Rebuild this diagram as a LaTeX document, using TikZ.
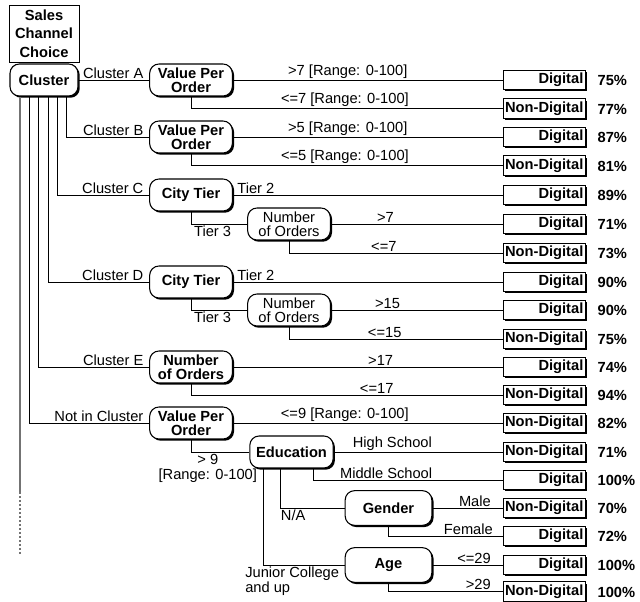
\documentclass[tikz,border=0pt]{standalone}
\usepackage{fontspec}
\setmainfont{Liberation Sans}
\usetikzlibrary{positioning,shadows}

\begin{document}
\begin{tikzpicture}[
  x=0.75pt,y=-0.75pt,
  font=\fontsize{11}{10.5}\selectfont,
  conn/.style={draw,line width=0.7pt},
  attr/.style={draw,fill=white,line width=0.8pt,rounded corners=7pt,align=center,
               font=\fontsize{11}{10.5}\selectfont\bfseries,inner sep=1.5pt,
               minimum width=62pt,minimum height=24pt,
               drop shadow={shadow xshift=1.3pt,shadow yshift=-1.3pt,opacity=1,fill=black}},
  attrplain/.style={attr,font=\fontsize{11}{10.5}\selectfont},
  leaf/.style={draw,fill=white,line width=0.6pt,text width=59pt,align=right,
               inner xsep=1.25pt,inner ysep=0pt,minimum height=14.5pt,
               font=\fontsize{11}{10.5}\selectfont\bfseries,
               drop shadow={shadow xshift=1.3pt,shadow yshift=-1.3pt,opacity=1,fill=black}},
  pct/.style={inner sep=0pt,yshift=-0.5pt,font=\fontsize{11}{10.5}\selectfont\bfseries},
  lbl/.style={inner sep=1pt},
  more/.style={line width=1pt,black!55}
]
  \useasboundingbox (0,0) rectangle (640,602);

  % root of the tree
  \node[draw,line width=0.7pt,align=center,inner sep=1pt,
        font=\fontsize{11}{13.8}\selectfont\bfseries,
        minimum width=52.5pt,minimum height=42.75pt] (choice) at (44,33.5) {Sales\\Channel\\Choice};
  \node[attr,minimum width=51pt] (cluster) at (44,80) {Cluster};
  \draw[conn] (choice) -- (cluster);

  % splits
  \node[attr] (vpoA) at (191,80) {Value Per\\Order};
  \node[attr] (vpoB) at (191,137) {Value Per\\Order};
  \node[attr] (ctC) at (191,195) {City Tier};
  \node[attrplain] (nooC) at (289,224) {Number\\of Orders};
  \node[attr] (ctD) at (191,282) {City Tier};
  \node[attrplain] (nooD) at (289,310) {Number\\of Orders};
  \node[attr] (nooE) at (191,367) {Number\\of Orders};
  \node[attr] (vpoN) at (191,423) {Value Per\\Order};
  \node[attr,minimum width=62.5pt] (edu) at (291.5,452) {Education};
  \node[attr,minimum width=65pt,minimum height=26pt] (gender) at (388.5,508) {Gender};
  \node[attr,minimum width=65pt,minimum height=26pt] (age) at (388.5,565) {Age};

  % leaves and shares
  \node[leaf] (lf1) at (544,80) {Digital};
  \node[pct,right=9pt of lf1] (pc1) {75\%};
  \node[leaf] (lf2) at (544,108.5) {Non-Digital};
  \node[pct,right=9pt of lf2] (pc2) {77\%};
  \node[leaf] (lf3) at (544,137) {Digital};
  \node[pct,right=9pt of lf3] (pc3) {87\%};
  \node[leaf] (lf4) at (544,165.5) {Non-Digital};
  \node[pct,right=9pt of lf4] (pc4) {81\%};
  \node[leaf] (lf5) at (544,195) {Digital};
  \node[pct,right=9pt of lf5] (pc5) {89\%};
  \node[leaf] (lf6) at (544,224) {Digital};
  \node[pct,right=9pt of lf6] (pc6) {71\%};
  \node[leaf] (lf7) at (544,253) {Non-Digital};
  \node[pct,right=9pt of lf7] (pc7) {73\%};
  \node[leaf] (lf8) at (544,282) {Digital};
  \node[pct,right=9pt of lf8] (pc8) {90\%};
  \node[leaf] (lf9) at (544,310) {Digital};
  \node[pct,right=9pt of lf9] (pc9) {90\%};
  \node[leaf] (lf10) at (544,339) {Non-Digital};
  \node[pct,right=9pt of lf10] (pc10) {75\%};
  \node[leaf] (lf11) at (544,367) {Digital};
  \node[pct,right=9pt of lf11] (pc11) {74\%};
  \node[leaf] (lf12) at (544,395) {Non-Digital};
  \node[pct,right=9pt of lf12] (pc12) {94\%};
  \node[leaf] (lf13) at (544,423) {Non-Digital};
  \node[pct,right=9pt of lf13] (pc13) {82\%};
  \node[leaf] (lf14) at (544,452) {Non-Digital};
  \node[pct,right=9pt of lf14] (pc14) {71\%};
  \node[leaf] (lf15) at (544,480) {Digital};
  \node[pct,right=9pt of lf15] (pc15) {100\%};
  \node[leaf] (lf16) at (544,508) {Non-Digital};
  \node[pct,right=9pt of lf16] (pc16) {70\%};
  \node[leaf] (lf17) at (544,536) {Digital};
  \node[pct,right=9pt of lf17] (pc17) {72\%};
  \node[leaf] (lf18) at (544,565) {Digital};
  \node[pct,right=9pt of lf18] (pc18) {100\%};
  \node[leaf] (lf19) at (544,591.5) {Non-Digital};
  \node[pct,right=9pt of lf19] (pc19) {100\%};

  % cluster branches
  \draw[conn] (cluster) -- node[lbl,pos=1,anchor=south east,xshift=-3pt] {Cluster A} (vpoA);
  \draw[conn] ([xshift=16.5pt]cluster.south) |- node[lbl,pos=1,anchor=south east,xshift=-3pt] {Cluster B} (vpoB);
  \draw[conn] ([xshift=9.75pt]cluster.south) |- node[lbl,pos=1,anchor=south east,xshift=-3pt] {Cluster C} (ctC);
  \draw[conn] ([xshift=3pt]cluster.south) |- node[lbl,pos=1,anchor=south east,xshift=-3pt] {Cluster D} (ctD);
  \draw[conn] ([xshift=-4.5pt]cluster.south) |- node[lbl,pos=1,anchor=south east,xshift=-3pt] {Cluster E} (nooE);
  \draw[conn] ([xshift=-11.25pt]cluster.south) |- node[lbl,pos=1,anchor=south east,xshift=-3pt] {Not in Cluster} (vpoN);
  \coordinate (cut) at (20,492);
  \coordinate (cutend) at (20,555);
  \draw[more] ([xshift=-18pt]cluster.south) -- (cut);
  \draw[more,dash pattern=on 1.5pt off 1.5pt] (cut) -- (cutend);

  % cluster A and B
  \draw[conn] (vpoA) -- node[lbl,pos=0.426,above] {>7 [Range: 0-100]} (lf1);
  \draw[conn] (vpoA) |- node[lbl,pos=0.747,above] {<=7 [Range: 0-100]} (lf2);
  \draw[conn] (vpoB) -- node[lbl,pos=0.426,above] {>5 [Range: 0-100]} (lf3);
  \draw[conn] (vpoB) |- node[lbl,pos=0.747,above] {<=5 [Range: 0-100]} (lf4);

  % cluster C and D
  \draw[conn] (ctC) -- node[lbl,pos=0,anchor=south west,xshift=2pt] {Tier 2} (lf5);
  \draw[conn] (ctC) |- node[lbl,pos=0.5,anchor=north west,xshift=1pt] {Tier 3} (nooC);
  \draw[conn] (nooC) -- node[lbl,pos=0.318,above] {>7} (lf6);
  \draw[conn] (nooC) |- node[lbl,pos=0.722,above] {<=7} (lf7);
  \draw[conn] (ctD) -- node[lbl,pos=0,anchor=south west,xshift=2pt] {Tier 2} (lf8);
  \draw[conn] (ctD) |- node[lbl,pos=0.5,anchor=north west,xshift=1pt] {Tier 3} (nooD);
  \draw[conn] (nooD) -- node[lbl,pos=0.33,above] {>15} (lf9);
  \draw[conn] (nooD) |- node[lbl,pos=0.724,above] {<=15} (lf10);

  % cluster E
  \draw[conn] (nooE) -- node[lbl,pos=0.548,above] {>17} (lf11);
  \draw[conn] (nooE) |- node[lbl,pos=0.798,above] {<=17} (lf12);

  % not in cluster
  \draw[conn] (vpoN) -- node[lbl,pos=0.415,above] {<=9 [Range: 0-100]} (lf13);
  \draw[conn] (vpoN) |- node[lbl,pos=0.644,anchor=north,align=center,
    font=\fontsize{11}{11.5}\selectfont] {> 9\\{}[Range: 0-100]} (edu);
  \draw[conn] (edu) -- node[lbl,pos=0.347,above] {High School} (lf14);
  \draw[conn] ([xshift=16.5pt]edu.south) |- node[lbl,pos=0.692,above] {Middle School} (lf15);
  \draw[conn] ([xshift=-8.25pt]edu.south) |- node[lbl,pos=0.5,anchor=north west,xshift=-1pt] {N/A} (gender);
  \draw[conn] ([xshift=-21pt]edu.south) |- node[lbl,pos=0.5,anchor=north west,xshift=-15pt,align=left,
    font=\fontsize{11}{11.5}\selectfont] {Junior College\\and up} (age);
  \draw[conn] (gender) -- node[lbl,pos=1,anchor=south east,xshift=-7.5pt] {Male} (lf16);
  \draw[conn] (gender) |- node[lbl,pos=1,anchor=south east,xshift=-6pt] {Female} (lf17);
  \draw[conn] (age) -- node[lbl,pos=1,anchor=south east,xshift=-7.5pt] {<=29} (lf18);
  \draw[conn] (age) |- node[lbl,pos=1,anchor=south east,xshift=-7.5pt] {>29} (lf19);
\end{tikzpicture}
\end{document}
